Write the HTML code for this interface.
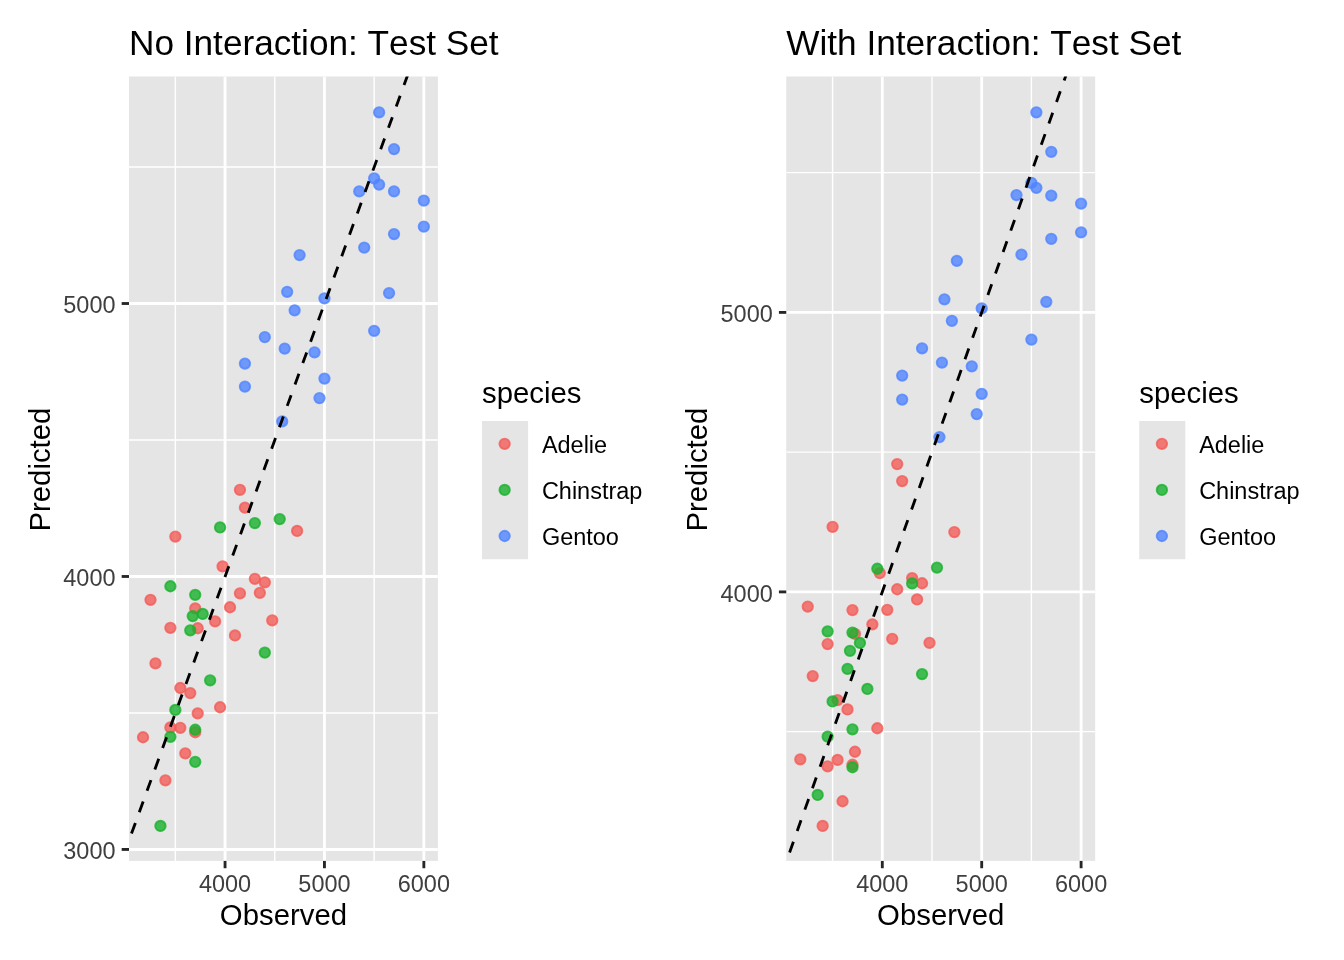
<!DOCTYPE html>
<html lang="en"><head><meta charset="utf-8"><title>Observed vs Predicted: Test Set</title>
<style>html,body{margin:0;padding:0;background:#fff}svg{display:block}text{font-family:"Liberation Sans",Arial,Helvetica,sans-serif;font-kerning:none}</style>
</head><body>
<svg width="1344" height="960" viewBox="0 0 1344 960">
<rect width="1344" height="960" fill="#fff"/>
<defs>
<clipPath id="c1"><rect x="129" y="76.5" width="308.9" height="784.4"/></clipPath>
<clipPath id="c2"><rect x="786.25" y="76.5" width="308.9" height="784.4"/></clipPath>
</defs>
<g id="panel1">
<rect x="129" y="76.5" width="308.9" height="784.4" fill="#E5E5E5"/>
<g clip-path="url(#c1)">
<g stroke="#fff" stroke-width="1.42" fill="none">
<line x1="175.35" y1="76.5" x2="175.35" y2="860.9"/>
<line x1="274.75" y1="76.5" x2="274.75" y2="860.9"/>
<line x1="374.15" y1="76.5" x2="374.15" y2="860.9"/>
<line x1="129" y1="712.97" x2="437.9" y2="712.97"/>
<line x1="129" y1="440" x2="437.9" y2="440"/>
<line x1="129" y1="167.03" x2="437.9" y2="167.03"/>
</g>
<g stroke="#fff" stroke-width="2.85" fill="none">
<line x1="225.05" y1="76.5" x2="225.05" y2="860.9"/>
<line x1="324.45" y1="76.5" x2="324.45" y2="860.9"/>
<line x1="423.85" y1="76.5" x2="423.85" y2="860.9"/>
<line x1="129" y1="849.45" x2="437.9" y2="849.45"/>
<line x1="129" y1="576.48" x2="437.9" y2="576.48"/>
<line x1="129" y1="303.51" x2="437.9" y2="303.51"/>
</g>
<g fill="#F35D59" stroke="#F35D59" fill-opacity="0.8" stroke-opacity="0.8" stroke-width="1.89">
<circle cx="239.96" cy="489.85" r="5.21"/>
<circle cx="244.93" cy="507.6" r="5.21"/>
<circle cx="297.11" cy="530.95" r="5.21"/>
<circle cx="175.35" cy="536.6" r="5.21"/>
<circle cx="222.56" cy="566.35" r="5.21"/>
<circle cx="254.87" cy="578.85" r="5.21"/>
<circle cx="264.81" cy="582.35" r="5.21"/>
<circle cx="239.96" cy="593.35" r="5.21"/>
<circle cx="259.84" cy="592.85" r="5.21"/>
<circle cx="150.5" cy="599.85" r="5.21"/>
<circle cx="230.02" cy="607.25" r="5.21"/>
<circle cx="195.23" cy="608.45" r="5.21"/>
<circle cx="215.11" cy="621.35" r="5.21"/>
<circle cx="272.26" cy="620.35" r="5.21"/>
<circle cx="170.38" cy="627.85" r="5.21"/>
<circle cx="197.71" cy="628.25" r="5.21"/>
<circle cx="234.99" cy="635.45" r="5.21"/>
<circle cx="155.47" cy="663.35" r="5.21"/>
<circle cx="180.32" cy="688" r="5.21"/>
<circle cx="190.26" cy="693.1" r="5.21"/>
<circle cx="220.08" cy="707.25" r="5.21"/>
<circle cx="197.71" cy="713.35" r="5.21"/>
<circle cx="170.38" cy="727.45" r="5.21"/>
<circle cx="180.32" cy="727.85" r="5.21"/>
<circle cx="195.23" cy="732.25" r="5.21"/>
<circle cx="143.04" cy="737.25" r="5.21"/>
<circle cx="185.29" cy="753.35" r="5.21"/>
<circle cx="165.41" cy="780.35" r="5.21"/>
</g>
<g fill="#5085FF" stroke="#5085FF" fill-opacity="0.8" stroke-opacity="0.8" stroke-width="1.89">
<circle cx="379.12" cy="112.35" r="5.21"/>
<circle cx="394.03" cy="149.1" r="5.21"/>
<circle cx="374.15" cy="178.35" r="5.21"/>
<circle cx="379.12" cy="184.6" r="5.21"/>
<circle cx="359.24" cy="191.35" r="5.21"/>
<circle cx="394.03" cy="191.35" r="5.21"/>
<circle cx="423.85" cy="200.6" r="5.21"/>
<circle cx="423.85" cy="226.6" r="5.21"/>
<circle cx="394.03" cy="234.1" r="5.21"/>
<circle cx="364.21" cy="247.6" r="5.21"/>
<circle cx="299.6" cy="255.1" r="5.21"/>
<circle cx="287.17" cy="291.85" r="5.21"/>
<circle cx="324.45" cy="298.35" r="5.21"/>
<circle cx="389.06" cy="293.1" r="5.21"/>
<circle cx="294.63" cy="310.35" r="5.21"/>
<circle cx="374.15" cy="330.85" r="5.21"/>
<circle cx="264.81" cy="337.1" r="5.21"/>
<circle cx="284.69" cy="348.6" r="5.21"/>
<circle cx="314.51" cy="352.35" r="5.21"/>
<circle cx="244.93" cy="363.6" r="5.21"/>
<circle cx="324.45" cy="378.6" r="5.21"/>
<circle cx="244.93" cy="386.6" r="5.21"/>
<circle cx="319.48" cy="398.1" r="5.21"/>
<circle cx="282.2" cy="421.35" r="5.21"/>
</g>
<g fill="#19B12D" stroke="#19B12D" fill-opacity="0.8" stroke-opacity="0.8" stroke-width="1.89">
<circle cx="279.72" cy="519.1" r="5.21"/>
<circle cx="254.87" cy="523.1" r="5.21"/>
<circle cx="220.08" cy="527.45" r="5.21"/>
<circle cx="170.38" cy="586.25" r="5.21"/>
<circle cx="195.23" cy="594.85" r="5.21"/>
<circle cx="202.68" cy="613.95" r="5.21"/>
<circle cx="192.74" cy="616.1" r="5.21"/>
<circle cx="190.26" cy="630.35" r="5.21"/>
<circle cx="264.81" cy="652.6" r="5.21"/>
<circle cx="210.14" cy="680.35" r="5.21"/>
<circle cx="175.35" cy="709.95" r="5.21"/>
<circle cx="195.23" cy="729.75" r="5.21"/>
<circle cx="170.38" cy="736.85" r="5.21"/>
<circle cx="195.23" cy="761.85" r="5.21"/>
<circle cx="160.44" cy="825.95" r="5.21"/>
</g>
<line x1="92.56" y1="940.53" x2="434.69" y2="0.88" stroke="#000" stroke-width="2.85" stroke-dasharray="11.38 11.38"/>
</g>
<g stroke="#262626" stroke-width="2.85">
<line x1="225.05" y1="860.9" x2="225.05" y2="868.23"/>
<line x1="324.45" y1="860.9" x2="324.45" y2="868.23"/>
<line x1="423.85" y1="860.9" x2="423.85" y2="868.23"/>
<line x1="121.67" y1="849.45" x2="129" y2="849.45"/>
<line x1="121.67" y1="576.48" x2="129" y2="576.48"/>
<line x1="121.67" y1="303.51" x2="129" y2="303.51"/>
</g>
<g fill="#3F3F3F" font-size="23.47px">
<text x="225.05" y="892.2" text-anchor="middle">4000</text>
<text x="324.45" y="892.2" text-anchor="middle">5000</text>
<text x="423.85" y="892.2" text-anchor="middle">6000</text>
<text x="115.5" y="859.15" text-anchor="end">3000</text>
<text x="115.5" y="586.18" text-anchor="end">4000</text>
<text x="115.5" y="313.21" text-anchor="end">5000</text>
</g>
<text x="283.45" y="924.7" font-size="29.33px" text-anchor="middle" fill="#000">Observed</text>
<text transform="translate(50.2,469.6) rotate(-90)" font-size="29.33px" text-anchor="middle" fill="#000">Predicted</text>
<text x="129" y="55" font-size="35.2px" fill="#000">No Interaction: Test Set</text>
<text x="482" y="402.6" font-size="29.33px" fill="#000">species</text>
<rect x="482" y="421" width="46.08" height="138.24" fill="#E5E5E5"/>
<circle cx="504.65" cy="443.85" r="5.21" fill="#F35D59" stroke="#F35D59" fill-opacity="0.8" stroke-opacity="0.8" stroke-width="1.89"/>
<text x="541.9" y="452.94" font-size="23.47px" fill="#000">Adelie</text>
<circle cx="504.65" cy="489.93" r="5.21" fill="#19B12D" stroke="#19B12D" fill-opacity="0.8" stroke-opacity="0.8" stroke-width="1.89"/>
<text x="541.9" y="499.02" font-size="23.47px" fill="#000">Chinstrap</text>
<circle cx="504.65" cy="536.01" r="5.21" fill="#5085FF" stroke="#5085FF" fill-opacity="0.8" stroke-opacity="0.8" stroke-width="1.89"/>
<text x="541.9" y="545.1" font-size="23.47px" fill="#000">Gentoo</text>
</g>
<g id="panel2">
<rect x="786.25" y="76.5" width="308.9" height="784.4" fill="#E5E5E5"/>
<g clip-path="url(#c2)">
<g stroke="#fff" stroke-width="1.42" fill="none">
<line x1="832.6" y1="76.5" x2="832.6" y2="860.9"/>
<line x1="932" y1="76.5" x2="932" y2="860.9"/>
<line x1="1031.4" y1="76.5" x2="1031.4" y2="860.9"/>
<line x1="786.25" y1="731.65" x2="1095.15" y2="731.65"/>
<line x1="786.25" y1="452.15" x2="1095.15" y2="452.15"/>
<line x1="786.25" y1="172.65" x2="1095.15" y2="172.65"/>
</g>
<g stroke="#fff" stroke-width="2.85" fill="none">
<line x1="882.3" y1="76.5" x2="882.3" y2="860.9"/>
<line x1="981.7" y1="76.5" x2="981.7" y2="860.9"/>
<line x1="1081.1" y1="76.5" x2="1081.1" y2="860.9"/>
<line x1="786.25" y1="591.9" x2="1095.15" y2="591.9"/>
<line x1="786.25" y1="312.4" x2="1095.15" y2="312.4"/>
</g>
<g fill="#F35D59" stroke="#F35D59" fill-opacity="0.8" stroke-opacity="0.8" stroke-width="1.89">
<circle cx="897.21" cy="464.1" r="5.21"/>
<circle cx="902.18" cy="481.1" r="5.21"/>
<circle cx="832.6" cy="526.85" r="5.21"/>
<circle cx="954.36" cy="532.1" r="5.21"/>
<circle cx="879.81" cy="573.1" r="5.21"/>
<circle cx="912.12" cy="578.1" r="5.21"/>
<circle cx="922.06" cy="583.25" r="5.21"/>
<circle cx="897.21" cy="589.25" r="5.21"/>
<circle cx="917.09" cy="599.45" r="5.21"/>
<circle cx="807.75" cy="606.6" r="5.21"/>
<circle cx="852.48" cy="610.1" r="5.21"/>
<circle cx="887.27" cy="609.85" r="5.21"/>
<circle cx="872.36" cy="624.35" r="5.21"/>
<circle cx="854.96" cy="633.85" r="5.21"/>
<circle cx="892.24" cy="638.85" r="5.21"/>
<circle cx="929.51" cy="642.85" r="5.21"/>
<circle cx="827.63" cy="644.1" r="5.21"/>
<circle cx="812.72" cy="676.1" r="5.21"/>
<circle cx="837.57" cy="700.1" r="5.21"/>
<circle cx="847.51" cy="709.45" r="5.21"/>
<circle cx="877.33" cy="728.25" r="5.21"/>
<circle cx="854.96" cy="751.75" r="5.21"/>
<circle cx="800.29" cy="759.35" r="5.21"/>
<circle cx="837.57" cy="759.95" r="5.21"/>
<circle cx="827.63" cy="766.35" r="5.21"/>
<circle cx="852.48" cy="764.75" r="5.21"/>
<circle cx="842.54" cy="801.25" r="5.21"/>
<circle cx="822.66" cy="825.95" r="5.21"/>
</g>
<g fill="#5085FF" stroke="#5085FF" fill-opacity="0.8" stroke-opacity="0.8" stroke-width="1.89">
<circle cx="1036.37" cy="112.35" r="5.21"/>
<circle cx="1051.28" cy="151.85" r="5.21"/>
<circle cx="1031.4" cy="182.85" r="5.21"/>
<circle cx="1036.37" cy="187.85" r="5.21"/>
<circle cx="1016.49" cy="195.1" r="5.21"/>
<circle cx="1051.28" cy="195.6" r="5.21"/>
<circle cx="1081.1" cy="203.6" r="5.21"/>
<circle cx="1081.1" cy="232.35" r="5.21"/>
<circle cx="1051.28" cy="238.85" r="5.21"/>
<circle cx="1021.46" cy="254.6" r="5.21"/>
<circle cx="956.85" cy="260.85" r="5.21"/>
<circle cx="944.42" cy="299.35" r="5.21"/>
<circle cx="981.7" cy="308.35" r="5.21"/>
<circle cx="1046.31" cy="301.85" r="5.21"/>
<circle cx="951.88" cy="320.85" r="5.21"/>
<circle cx="1031.4" cy="339.6" r="5.21"/>
<circle cx="922.06" cy="348.35" r="5.21"/>
<circle cx="941.94" cy="362.6" r="5.21"/>
<circle cx="971.76" cy="366.35" r="5.21"/>
<circle cx="902.18" cy="375.6" r="5.21"/>
<circle cx="981.7" cy="393.85" r="5.21"/>
<circle cx="902.18" cy="399.6" r="5.21"/>
<circle cx="976.73" cy="414.1" r="5.21"/>
<circle cx="939.45" cy="437.1" r="5.21"/>
</g>
<g fill="#19B12D" stroke="#19B12D" fill-opacity="0.8" stroke-opacity="0.8" stroke-width="1.89">
<circle cx="877.33" cy="568.75" r="5.21"/>
<circle cx="936.97" cy="567.6" r="5.21"/>
<circle cx="912.12" cy="583.45" r="5.21"/>
<circle cx="827.63" cy="631.35" r="5.21"/>
<circle cx="852.48" cy="632.6" r="5.21"/>
<circle cx="859.93" cy="642.95" r="5.21"/>
<circle cx="849.99" cy="650.85" r="5.21"/>
<circle cx="847.51" cy="668.85" r="5.21"/>
<circle cx="922.06" cy="674.1" r="5.21"/>
<circle cx="867.39" cy="688.95" r="5.21"/>
<circle cx="832.6" cy="701.45" r="5.21"/>
<circle cx="852.48" cy="729.35" r="5.21"/>
<circle cx="827.63" cy="736.6" r="5.21"/>
<circle cx="852.48" cy="767.25" r="5.21"/>
<circle cx="817.69" cy="794.95" r="5.21"/>
</g>
<line x1="751.45" y1="959.73" x2="1086.53" y2="17.54" stroke="#000" stroke-width="2.85" stroke-dasharray="11.38 11.38"/>
</g>
<g stroke="#262626" stroke-width="2.85">
<line x1="882.3" y1="860.9" x2="882.3" y2="868.23"/>
<line x1="981.7" y1="860.9" x2="981.7" y2="868.23"/>
<line x1="1081.1" y1="860.9" x2="1081.1" y2="868.23"/>
<line x1="778.92" y1="591.9" x2="786.25" y2="591.9"/>
<line x1="778.92" y1="312.4" x2="786.25" y2="312.4"/>
</g>
<g fill="#3F3F3F" font-size="23.47px">
<text x="882.3" y="892.2" text-anchor="middle">4000</text>
<text x="981.7" y="892.2" text-anchor="middle">5000</text>
<text x="1081.1" y="892.2" text-anchor="middle">6000</text>
<text x="772.75" y="601.6" text-anchor="end">4000</text>
<text x="772.75" y="322.1" text-anchor="end">5000</text>
</g>
<text x="940.7" y="924.7" font-size="29.33px" text-anchor="middle" fill="#000">Observed</text>
<text transform="translate(707.45,469.6) rotate(-90)" font-size="29.33px" text-anchor="middle" fill="#000">Predicted</text>
<text x="786.25" y="55" font-size="35.2px" fill="#000">With Interaction: Test Set</text>
<text x="1139.25" y="402.6" font-size="29.33px" fill="#000">species</text>
<rect x="1139.25" y="421" width="46.08" height="138.24" fill="#E5E5E5"/>
<circle cx="1161.9" cy="443.85" r="5.21" fill="#F35D59" stroke="#F35D59" fill-opacity="0.8" stroke-opacity="0.8" stroke-width="1.89"/>
<text x="1199.15" y="452.94" font-size="23.47px" fill="#000">Adelie</text>
<circle cx="1161.9" cy="489.93" r="5.21" fill="#19B12D" stroke="#19B12D" fill-opacity="0.8" stroke-opacity="0.8" stroke-width="1.89"/>
<text x="1199.15" y="499.02" font-size="23.47px" fill="#000">Chinstrap</text>
<circle cx="1161.9" cy="536.01" r="5.21" fill="#5085FF" stroke="#5085FF" fill-opacity="0.8" stroke-opacity="0.8" stroke-width="1.89"/>
<text x="1199.15" y="545.1" font-size="23.47px" fill="#000">Gentoo</text>
</g>
</svg></body></html>
